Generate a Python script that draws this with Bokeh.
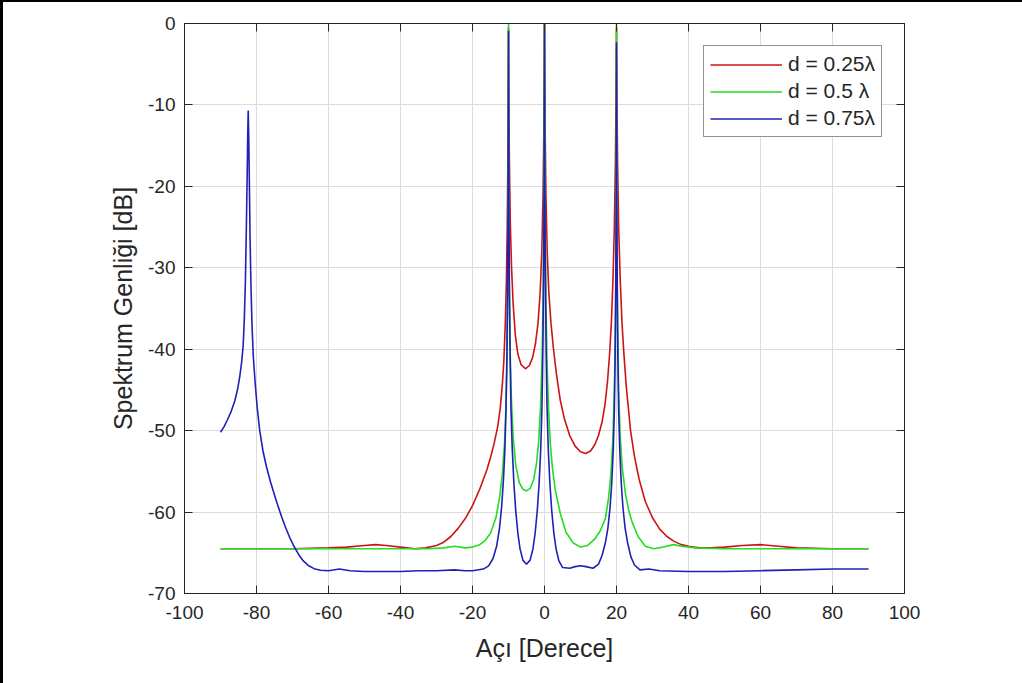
from bokeh.plotting import figure
from bokeh.layouts import column
from bokeh.models import LinearAxis, Range1d, FixedTicker, Legend, LegendItem
from bokeh.embed import file_html
from bokeh.resources import INLINE

# ---------------- data ----------------
x_ticks = [-100, -80, -60, -40, -20, 0, 20, 40, 60, 80, 100]
y_ticks = [-70, -60, -50, -40, -30, -20, -10, 0]

series_labels = ["d = 0.25λ", "d = 0.5 λ", "d = 0.75λ"]

red_points = [
    (-90, -64.5), (-80, -64.5), (-70, -64.5), (-60, -64.4), (-55, -64.3),
    (-50, -64.1), (-47, -64.0), (-44, -64.1), (-40, -64.3), (-36, -64.5),
    (-33, -64.4), (-30, -64.1), (-28, -63.7), (-26, -63.0), (-24, -62.0),
    (-22, -60.8), (-20, -59.2), (-18, -57.2), (-16, -54.8), (-15, -53.3),
    (-14, -51.6), (-13, -49.5), (-12.3, -47.3), (-11.7, -44.3), (-11.3, -41.5),
    (-10.9, -37), (-10.6, -32), (-10.35, -25), (-10.18, -17), (-10.07, -9),
    (-10, -0.5), (-9.9, -9), (-9.75, -17), (-9.5, -24.5), (-9.15, -30),
    (-8.7, -34.5), (-8.1, -38.3), (-7.4, -40.6), (-6.5, -41.9), (-5.3, -42.4),
    (-4.2, -42.0), (-3.3, -41.0), (-2.5, -39.3), (-1.8, -36.8), (-1.2, -33),
    (-0.75, -28), (-0.4, -21), (-0.18, -13), (-0.06, -6), (0, 0),
    (0.06, -6), (0.18, -13), (0.4, -21), (0.75, -28), (1.2, -33),
    (1.8, -36.8), (2.5, -40), (3.3, -43), (4.4, -46.3), (5.5, -48.5),
    (7, -50.6), (8.5, -51.9), (10, -52.6), (11.4, -52.8), (12.8, -52.5),
    (14, -51.7), (15, -50.6), (16, -48.9), (16.8, -46.8), (17.5, -44),
    (18.1, -40.5), (18.6, -36.5), (19.05, -31), (19.4, -25), (19.7, -17),
    (19.88, -9), (20, -0.5), (20.12, -9), (20.3, -17), (20.6, -25),
    (21.0, -31), (21.5, -36.5), (22.0, -40.2), (22.7, -44.5), (23.9, -50.0),
    (25, -53.2), (26.3, -56), (28, -58.7), (30, -60.7), (32, -62.1),
    (34, -63.0), (36, -63.6), (38, -64.0), (40, -64.2), (43, -64.4),
    (46, -64.4), (50, -64.3), (55, -64.1), (60, -64.0), (65, -64.2),
    (70, -64.4), (80, -64.5), (90, -64.5),
]

green_points = [
    (-90, -64.5), (-70, -64.5), (-50, -64.5), (-40, -64.5), (-32, -64.5),
    (-28, -64.4), (-25, -64.2), (-22, -64.4), (-20, -64.3), (-18, -64.0),
    (-16.5, -63.5), (-15, -62.6), (-13.5, -60.7), (-12.5, -58.3),
    (-11.7, -55.3), (-11.1, -51.5), (-10.7, -47), (-10.4, -41), (-10.2, -33),
    (-10.07, -20), (-10, 0), (-9.93, -20), (-9.8, -32), (-9.55, -40),
    (-9.2, -46), (-8.7, -50.8), (-8, -54.2), (-7, -56.4), (-6, -57.2),
    (-5, -57.4), (-4, -57.1), (-3, -56.0), (-2.2, -54.0), (-1.6, -51.2),
    (-1.1, -47), (-0.7, -41.5), (-0.4, -34), (-0.17, -22), (0, 0),
    (0.17, -22), (0.4, -34), (0.7, -41.5), (1.1, -47), (1.6, -51.5),
    (2.2, -54.6), (3, -57.3), (4.4, -60.2), (6, -62.5), (8, -63.8),
    (10, -64.3), (12, -64.1), (14, -63.3), (15.5, -62.3), (16.9, -60.8),
    (17.8, -58.3), (18.5, -55), (19.0, -51), (19.4, -45), (19.7, -37),
    (19.9, -24), (20, 0), (20.1, -24), (20.3, -37), (20.6, -45),
    (21.0, -50.5), (21.6, -54.5), (22.5, -57.8), (23.5, -60.0), (24.4, -61.3),
    (26, -63.0), (28, -64.2), (30.4, -64.5), (33, -64.3), (35.9, -64.0),
    (38, -64.2), (42, -64.4), (50, -64.5), (60, -64.5), (70, -64.5),
    (80, -64.5), (90, -64.5),
]

blue_points = [
    (-90, -50.2), (-89, -49.5), (-88, -48.6), (-87, -47.6), (-86, -46.3),
    (-85.2, -44.8), (-84.6, -43.2), (-84.1, -41.5), (-83.7, -39.5),
    (-83.4, -36.5), (-83.1, -32), (-82.85, -26), (-82.6, -19), (-82.45, -14),
    (-82.3, -10.7), (-82.15, -14), (-82.0, -19), (-81.8, -26), (-81.55, -32),
    (-81.25, -37), (-80.9, -40.8), (-80.4, -44), (-79.8, -47.2), (-79.1, -50),
    (-78.2, -52.5), (-77.2, -54.5), (-76.1, -56.3), (-75, -57.9), (-74, -59.3),
    (-73, -60.6), (-72, -61.8), (-70.8, -63.1), (-69.6, -64.2), (-68.3, -65.2),
    (-67, -66.0), (-65.5, -66.6), (-64, -66.95), (-62.2, -67.15), (-60, -67.2),
    (-57, -67.0), (-54, -67.2), (-50, -67.3), (-45, -67.3), (-40, -67.3),
    (-35, -67.2), (-30, -67.2), (-25, -67.1), (-22, -67.2), (-20, -67.2),
    (-17, -67.0), (-15.5, -66.6), (-14.3, -65.7), (-13.3, -64.2),
    (-12.5, -62.0), (-11.9, -59.3), (-11.4, -56.0), (-11.0, -52.3),
    (-10.7, -47.5), (-10.45, -41), (-10.25, -32), (-10.1, -21), (-10, -0.9),
    (-9.9, -21), (-9.75, -32), (-9.55, -41), (-9.3, -47.5), (-8.95, -52.3),
    (-8.5, -56.5), (-8.0, -59.8), (-7.4, -62.6), (-6.8, -64.5), (-6, -65.9),
    (-5, -66.4), (-4, -65.9), (-3.2, -64.5), (-2.6, -62.6), (-2.0, -59.8),
    (-1.5, -56.5), (-1.05, -52.3), (-0.7, -47), (-0.45, -40), (-0.25, -31),
    (-0.1, -19), (0, 0), (0.1, -19), (0.25, -31), (0.45, -40), (0.7, -47),
    (1.05, -52.3), (1.5, -56.5), (2.0, -59.8), (2.6, -62.6), (3.2, -64.5),
    (4, -66.0), (5, -66.8), (7, -66.9), (8.5, -66.7), (10, -66.6),
    (11.5, -66.7), (13.5, -66.9), (15, -66.4), (16, -65.3), (16.9, -63.8),
    (17.6, -62.0), (18.2, -59.5), (18.7, -56.3), (19.1, -52.3), (19.4, -47.5),
    (19.62, -41), (19.8, -32), (19.92, -20), (20, -2.3), (20.08, -20),
    (20.2, -32), (20.38, -41), (20.6, -47.5), (20.9, -52.3), (21.3, -56.3),
    (21.8, -59.5), (22.4, -62.0), (23.1, -63.8), (24, -65.5), (25, -66.5),
    (26.5, -67.1), (29, -67.0), (32, -67.2), (40, -67.3), (50, -67.3),
    (60, -67.2), (70, -67.1), (80, -67.0), (90, -67.0),
]

red_x = [pt[0] for pt in red_points]
red_y = [pt[1] for pt in red_points]
green_x = [pt[0] for pt in green_points]
green_y = [pt[1] for pt in green_points]
blue_x = [pt[0] for pt in blue_points]
blue_y = [pt[1] for pt in blue_points]

# ---------------- figure ----------------
FONT = "Liberation Sans"
TXT = "#262626"

p = figure(width=1019, height=681, output_backend="svg", toolbar_location=None,
           x_range=Range1d(-100, 100), y_range=Range1d(-70, 0),
           min_border_left=181, min_border_right=118,
           min_border_top=21, min_border_bottom=90,
           background_fill_color="white", border_fill_color="white")

p.outline_line_color = TXT
p.outline_line_width = 1

for ax in p.xaxis + p.yaxis:
    ax.major_tick_in = 8
    ax.major_tick_out = 0
    ax.minor_tick_line_color = None
    ax.axis_line_color = TXT
    ax.major_tick_line_color = TXT
    ax.major_label_text_font = FONT
    ax.major_label_text_font_size = "19px"
    ax.major_label_text_color = TXT
    ax.axis_label_text_font = FONT
    ax.axis_label_text_font_size = "25px"
    ax.axis_label_text_font_style = "normal"
    ax.axis_label_text_color = TXT

p.xaxis.ticker = FixedTicker(ticks=x_ticks)
p.yaxis.ticker = FixedTicker(ticks=y_ticks)
p.xaxis.major_label_overrides = {t: str(t) for t in x_ticks}
p.yaxis.major_label_overrides = {t: str(t) for t in y_ticks}
p.xaxis.axis_label = "Açı [Derece]"
p.yaxis.axis_label = "Spektrum Genliği [dB]"
p.xaxis.major_label_standoff = 12
p.yaxis.major_label_standoff = 9
p.xaxis.axis_label_standoff = 12
p.yaxis.axis_label_standoff = 8

top_ax = LinearAxis(ticker=FixedTicker(ticks=x_ticks))
right_ax = LinearAxis(ticker=FixedTicker(ticks=y_ticks))
for ax in (top_ax, right_ax):
    ax.major_tick_in = 8
    ax.major_tick_out = 0
    ax.minor_tick_line_color = None
    ax.axis_line_color = TXT
    ax.major_tick_line_color = TXT
    ax.major_label_text_font_size = "8px"
    ax.major_label_text_color = None
    ax.major_label_standoff = 0
p.add_layout(top_ax, "above")
p.add_layout(right_ax, "right")

p.xgrid.ticker = FixedTicker(ticks=x_ticks)
p.ygrid.ticker = FixedTicker(ticks=y_ticks)
p.grid.grid_line_color = "#dcdcdc"
p.grid.grid_line_width = 1

r1 = p.line(red_x, red_y, line_color="#cc1414", line_width=1.6)
r2 = p.line(green_x, green_y, line_color="#22dd22", line_width=1.6)
r3 = p.line(blue_x, blue_y, line_color="#2020b8", line_width=1.6)

legend = Legend(items=[LegendItem(label=series_labels[0], renderers=[r1]),
                       LegendItem(label=series_labels[1], renderers=[r2]),
                       LegendItem(label=series_labels[2], renderers=[r3])],
                location=(519, 456))
legend.label_text_font = FONT
legend.label_text_font_size = "21px"
legend.label_text_color = TXT
legend.glyph_width = 72
legend.glyph_height = 23
legend.label_height = 23
legend.label_standoff = 6
legend.spacing = 3
legend.padding = 6
legend.margin = 0
legend.border_line_color = TXT
legend.border_line_width = 1
legend.background_fill_color = "white"
legend.background_fill_alpha = 1
p.add_layout(legend, "center")

# left and top edges of the scanned page frame
page = column(p, styles={"border-left": "3px solid black",
                         "border-top": "2px solid black",
                         "background-color": "white"})

open("out.html", "w").write(file_html(page, INLINE))
